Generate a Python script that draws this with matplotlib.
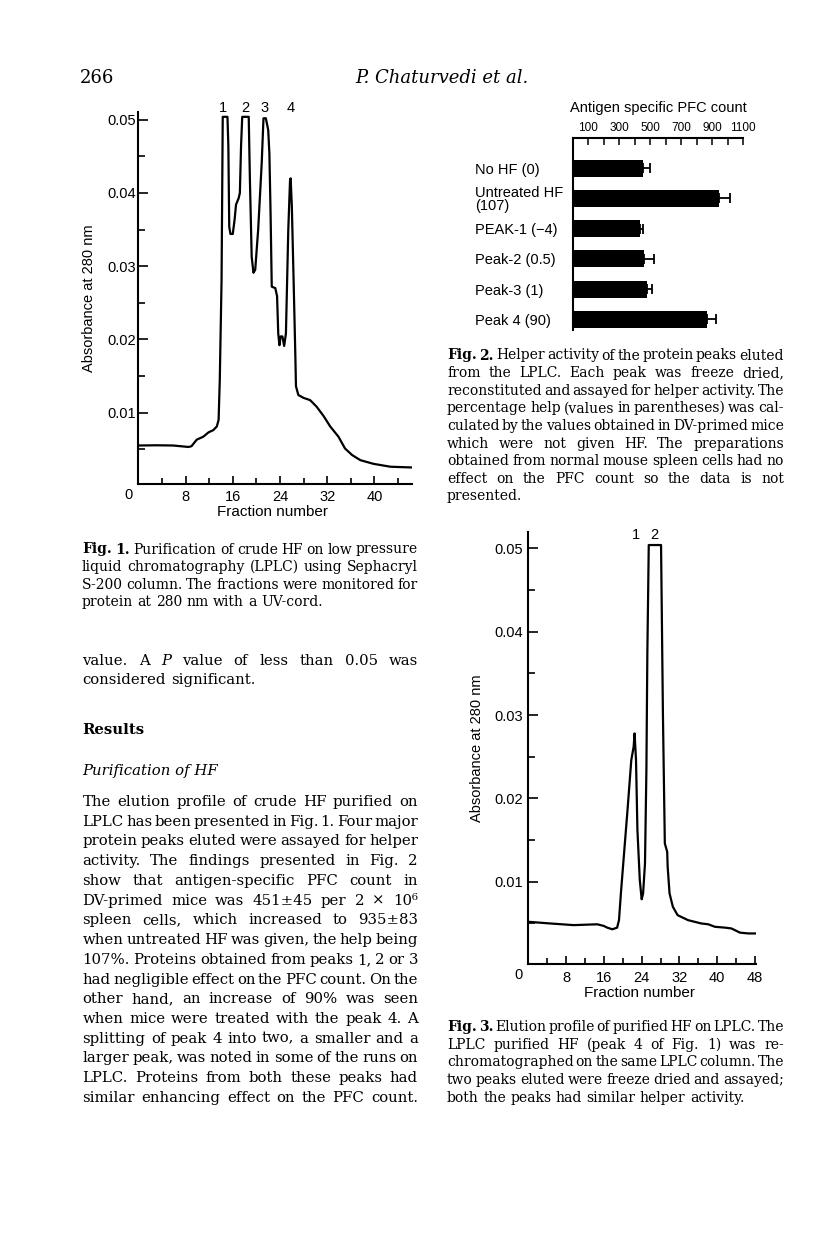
import matplotlib
matplotlib.use('Agg')
import matplotlib.pyplot as plt

# ---- values ----
# Fig. 1: crude HF on LPLC
fig1_fraction = [0, 3.1, 5.9, 8.5, 9.0, 9.9, 11.0, 11.9, 12.7, 13.3,
                 13.6, 13.8, 14.1, 14.3, 15.1, 15.25, 15.4, 15.6, 16.0, 16.3,
                 16.55, 17.0, 17.2, 17.4, 17.6, 18.7, 18.9, 19.2, 19.5, 19.8,
                 20.3, 20.9, 21.2, 21.6, 22.0, 22.2, 22.4, 22.6, 23.2, 23.5,
                 23.7, 23.9, 24.1, 24.4, 24.7, 25.0, 25.4, 25.7, 25.8, 26.0,
                 26.3, 26.6, 26.7, 27.1, 28.0, 29.1, 30.2, 31.4, 32.5, 33.9,
                 35.0, 36.2, 37.6, 39.8, 42.7, 46.3]
fig1_absorbance = [0.0055, 0.00553, 0.0055, 0.0053, 0.0054, 0.0063, 0.0067, 0.0073, 0.0076, 0.0081,
                   0.009, 0.0145, 0.0281, 0.0504, 0.0504, 0.0464, 0.0354, 0.0344, 0.0344, 0.0363,
                   0.0384, 0.0393, 0.040, 0.0464, 0.0504, 0.0504, 0.0418, 0.0313, 0.0291, 0.0295,
                   0.035, 0.0441, 0.0502, 0.0502, 0.0486, 0.0454, 0.0372, 0.0272, 0.027, 0.0259,
                   0.0208, 0.0192, 0.0204, 0.0204, 0.0191, 0.0208, 0.035, 0.0418, 0.042, 0.0382,
                   0.0281, 0.0176, 0.0136, 0.0124, 0.012, 0.0117, 0.0108, 0.0095, 0.0081, 0.0067,
                   0.0051, 0.0042, 0.0035, 0.003, 0.0026, 0.0025]
fig1_peak_ids = ['1', '2', '3', '4']
fig1_peak_pos = [14.4, 18.05, 21.3, 25.8]

# Fig. 2: helper activity
fig2_groups = ['No HF (0)', 'Untreated HF\n(107)', 'PEAK-1 (\u22124)',
               'Peak-2 (0.5)', 'Peak-3 (1)', 'Peak 4 (90)']
fig2_pfc = [455, 942, 435, 460, 478, 865]
fig2_err = [41, 70, 17, 64, 34, 60]
fig2_ticks = [100, 200, 300, 400, 500, 600, 700, 800, 900, 1000, 1100]
fig2_ticklabels = ['100', '', '300', '', '500', '', '700', '', '900', '', '1100']

# Fig. 3: purified HF on LPLC
fig3_fraction = [0, 4.6, 9.6, 14.6, 16.0, 16.7, 17.8, 18.8, 19.2, 19.6,
                 20.1, 21.0, 21.8, 22.3, 22.5, 22.8, 23.1, 23.6, 24.0, 24.3,
                 24.7, 25.0, 25.2, 25.5, 28.1, 28.5, 28.9, 29.4, 29.5, 29.9,
                 30.6, 31.6, 33.8, 36.6, 38.1, 39.5, 41.6, 43.0, 44.8, 46.6,
                 48.2]
fig3_absorbance = [0.0052, 0.005, 0.0048, 0.0049, 0.0047, 0.0045, 0.0043, 0.0045, 0.0054, 0.0086,
                   0.0122, 0.0186, 0.0246, 0.0262, 0.0278, 0.0246, 0.0162, 0.0102, 0.0079, 0.0086,
                   0.0122, 0.0234, 0.0374, 0.0504, 0.0504, 0.030, 0.0146, 0.0136, 0.0118, 0.0086,
                   0.007, 0.006, 0.0054, 0.005, 0.0049, 0.0046, 0.0045, 0.0044, 0.0039, 0.0038,
                   0.0038]
fig3_peak_ids = ['1', '2']
fig3_peak_pos = [22.8, 26.7]

abs_major = [0.01, 0.02, 0.03, 0.04, 0.05]
abs_minor = [0.005, 0.015, 0.025, 0.035, 0.045]

# ---- page text ----
header_page = '266'
header_authors = 'P. Chaturvedi et al.'

caption1 = ['**Fig.** **1.** Purification of crude HF on low pressure',
            'liquid chromatography (LPLC) using Sephacryl',
            'S-200 column. The fractions were monitored for',
            'protein at 280 nm with a UV-cord.']

caption2 = ['**Fig.** **2.** Helper activity of the protein peaks eluted',
            'from the LPLC. Each peak was freeze dried,',
            'reconstituted and assayed for helper activity. The',
            'percentage help (values in parentheses) was cal-',
            'culated by the values obtained in DV-primed mice',
            'which were not given HF. The preparations',
            'obtained from normal mouse spleen cells had no',
            'effect on the PFC count so the data is not',
            'presented.']

caption3 = ['**Fig.** **3.** Elution profile of purified HF on LPLC. The',
            'LPLC purified HF (peak 4 of Fig. 1) was re-',
            'chromatographed on the same LPLC column. The',
            'two peaks eluted were freeze dried and assayed;',
            'both the peaks had similar helper activity.']

body_top = ['value. A *P* value of less than 0.05 was',
            'considered significant.']

body_main = ['The elution profile of crude HF purified on',
             'LPLC has been presented in Fig. 1. Four major',
             'protein peaks eluted were assayed for helper',
             'activity. The findings presented in Fig. 2',
             'show that antigen-specific PFC count in',
             'DV-primed mice was 451\u00b145 per 2\u2009\u00d7\u200910\u2076',
             'spleen cells, which increased to 935\u00b183',
             'when untreated HF was given, the help being',
             '107%. Proteins obtained from peaks 1, 2 or 3',
             'had negligible effect on the PFC count. On the',
             'other hand, an increase of 90% was seen',
             'when mice were treated with the peak 4. A',
             'splitting of peak 4 into two, a smaller and a',
             'larger peak, was noted in some of the runs on',
             'LPLC. Proteins from both these peaks had',
             'similar enhancing effect on the PFC count.']

SANS = 'Liberation Sans'
SERIF = 'DejaVu Serif'
plt.rcParams['font.family'] = SANS

W, H = 816, 1256
fig = plt.figure(figsize=(W / 100, H / 100), dpi=100, facecolor='white')
renderer = fig.canvas.get_renderer()


def add_axes_px(left, top, right, bottom):
    return fig.add_axes([left / W, 1 - bottom / H, (right - left) / W, (bottom - top) / H])


def style_of(tok):
    if tok.startswith('**'):
        return tok.strip('*'), {'weight': 'bold'}
    if tok.startswith('*'):
        return tok.strip('*'), {'style': 'italic'}
    return tok, {}


def measure(s, size, **kw):
    t = fig.text(0, 0, s, fontsize=size, family=SERIF, **kw)
    w = t.get_window_extent(renderer).width
    t.remove()
    return w


def natural_width(lines, size, squeeze=0.5):
    # widest line when word spaces are squeezed the way a typesetter does
    space = (measure('a a', size) - measure('aa', size)) * squeeze
    best = 0
    for line in lines:
        toks = [style_of(t) for t in line.split()]
        w = sum(measure(s, size, **p) for s, p in toks) + (len(toks) - 1) * space
        best = max(best, w)
    return best


def justified(lines, x0, x1, first_base, step, size, ragged_last=True):
    space = measure('a a', size) - measure('aa', size)
    for i, line in enumerate(lines):
        toks = [style_of(t) for t in line.split()]
        widths = [measure(s, size, **p) for s, p in toks]
        if (ragged_last and i == len(lines) - 1) or len(toks) == 1:
            gap = space
        else:
            gap = (x1 - x0 - sum(widths)) / (len(toks) - 1)
        x = x0
        y = first_base + i * step
        for (s, p), w in zip(toks, widths):
            fig.text(x / W, 1 - y / H, s, fontsize=size, family=SERIF,
                     ha='left', va='baseline', **p)
            x += w + gap


def elution_plot(box, frac, absb, xmax, ylim, xmajor, xminor, peak_ids, peak_pos,
                 peak_y, ylabel_x, xlabel_y, ypad, xpad):
    ax = add_axes_px(*box)
    ax.plot(frac, absb, color='black', lw=1.6, solid_joinstyle='round')
    ax.set_xlim(0, xmax)
    ax.set_ylim(*ylim)
    for s in ['top', 'right']:
        ax.spines[s].set_visible(False)
    for s in ['left', 'bottom']:
        ax.spines[s].set_linewidth(1.5)
    ax.set_xticks(xmajor)
    ax.set_xticks(xminor, minor=True)
    ax.set_yticks(abs_major)
    ax.set_yticks(abs_minor, minor=True)
    ax.yaxis.set_major_formatter(lambda v, p: f'{v:.2f}')
    ax.tick_params(direction='in', width=1.2, labelsize=10.5, which='both')
    ax.tick_params(axis='x', which='major', length=6, pad=xpad)
    ax.tick_params(axis='x', which='minor', length=4)
    ax.tick_params(axis='y', which='major', length=7, pad=ypad)
    ax.tick_params(axis='y', which='minor', length=5)
    ax.set_ylabel('Absorbance at 280 nm', fontsize=10.5)
    ax.yaxis.set_label_coords(ylabel_x, 0.5)
    ax.set_xlabel('Fraction number', fontsize=11)
    ax.xaxis.set_label_coords(0.49, xlabel_y)
    ax.annotate('0', xy=(0, 0), xycoords='axes fraction', xytext=(-6.7, -7.8),
                textcoords='offset points', ha='center', va='center', fontsize=10.5)
    for pid, pos in zip(peak_ids, peak_pos):
        ax.text(pos, peak_y, pid, transform=ax.get_xaxis_transform(),
                ha='center', va='center', fontsize=10.5)
    return ax


# Fig. 1
elution_plot((138.3, 111.7, 411.7, 484.3), fig1_fraction, fig1_absorbance, 46.3,
             (0.0002, 0.0511), [8, 16, 24, 32, 40], [4, 12, 20, 28, 36, 44],
             fig1_peak_ids, fig1_peak_pos, 1.01, -0.155, -0.056, 2, 4)

# Fig. 3
elution_plot((528.3, 531.7, 756.0, 964.3), fig3_fraction, fig3_absorbance, 48.2,
             (0.0001, 0.052), [8, 16, 24, 32, 40, 48], [4, 12, 20, 28, 36, 44],
             fig3_peak_ids, fig3_peak_pos, 0.992, -0.195, -0.050, 3.5, 4.5)

# Fig. 2
ax2 = add_axes_px(572.7, 137.7, 743.3, 330.0)
ypos = list(range(len(fig2_groups)))
ax2.barh(ypos, fig2_pfc, height=0.56, color='black')
ax2.errorbar(fig2_pfc, ypos, xerr=[[0] * len(fig2_err), fig2_err], fmt='none',
             ecolor='black', elinewidth=1.3, capsize=3.5, capthick=1.3)
ax2.set_xlim(0, 1100)
ax2.set_ylim(5.35, -1.01)
ax2.xaxis.tick_top()
ax2.set_xticks(fig2_ticks)
ax2.set_xticklabels(fig2_ticklabels)
ax2.tick_params(axis='x', direction='in', length=5, width=1.1, labelsize=8.5, pad=3)
ax2.set_yticks(ypos)
ax2.set_yticklabels(fig2_groups, fontsize=10.5, linespacing=0.95)
for lab in ax2.get_yticklabels():
    lab.set_horizontalalignment('left')
ax2.tick_params(axis='y', length=0, pad=70.3)
for s in ['bottom', 'right']:
    ax2.spines[s].set_visible(False)
for s in ['top', 'left']:
    ax2.spines[s].set_linewidth(1.5)
ax2.text(0.5, 1 + 30 / 192.3, 'Antigen specific PFC count', transform=ax2.transAxes,
         ha='center', va='center', fontsize=10.5)

# ---- running text ----
fig.text(80 / W, 1 - 83 / H, header_page, fontsize=13, family=SERIF, va='baseline')
fig.text(355 / W, 1 - 83 / H, header_authors, fontsize=13, family=SERIF,
         style='italic', va='baseline')

cap_size = min(10 * 337 / natural_width(caption1 + caption2 + caption3, 10), 11)
body_size = min(10 * 336 / natural_width(body_top + body_main, 10), 12.5)

justified(caption1, 82, 418, 553.5, 17.6, cap_size)
justified(caption2, 447, 784, 359.5, 17.6, cap_size)
justified(caption3, 447, 784, 1031.2, 17.6, cap_size)

justified(body_top, 82.5, 418, 665, 19.4, body_size)
fig.text(82.5 / W, 1 - 734 / H, 'Results', fontsize=body_size, family=SERIF,
         weight='bold', va='baseline')
fig.text(82.5 / W, 1 - 775 / H, 'Purification of HF', fontsize=body_size, family=SERIF,
         style='italic', va='baseline')
justified(body_main, 82.5, 418, 806, 19.73, body_size, ragged_last=False)

fig.savefig('out.png', dpi=100, facecolor='white')
